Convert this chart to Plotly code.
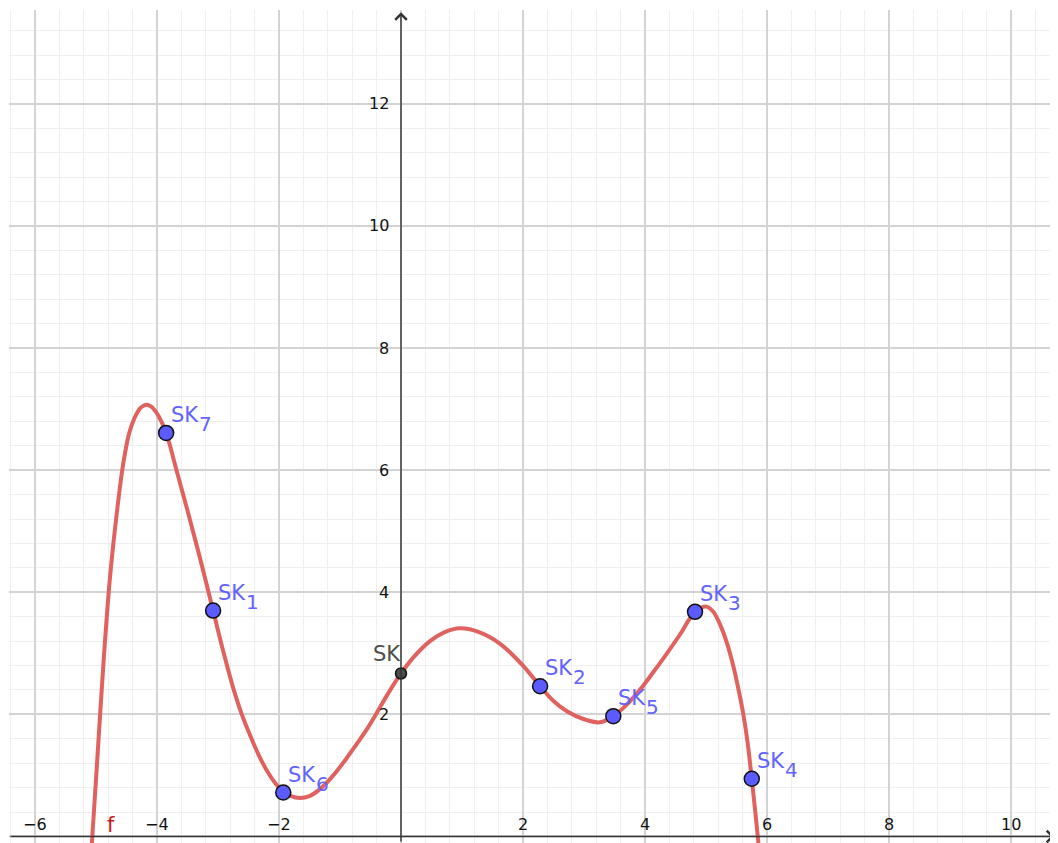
import plotly.graph_objects as go

# ---- data ----
curve_x = [-5.08, -5.06, -4.97, -4.87, -4.77, -4.67, -4.57, -4.52, -4.47, -4.42, -4.37, -4.32,
           -4.27, -4.22, -4.17, -4.12, -4.07, -3.97, -3.85, -3.68, -3.50, -3.30, -3.08, -2.90,
           -2.75, -2.61, -2.45, -2.34, -2.20, -2.05, -1.93, -1.80, -1.66, -1.50, -1.30, -1.11,
           -0.90, -0.73, -0.55, -0.40, -0.20, 0.00, 0.20, 0.475, 0.70, 0.97, 1.30, 1.62, 2.00,
           2.28, 2.50, 2.72, 3.00, 3.26, 3.48, 3.70, 3.97, 4.15, 4.36, 4.60, 4.72, 4.82, 4.92,
           5.01, 5.12, 5.24, 5.34, 5.45, 5.53, 5.61, 5.68, 5.75, 5.81, 5.86, 5.88]
curve_y = [-0.30, 0.00, 1.40, 2.95, 4.25, 5.20, 6.00, 6.30, 6.55, 6.72, 6.85, 6.95,
           7.02, 7.055, 7.07, 7.055, 7.02, 6.88, 6.61, 6.00, 5.34, 4.58, 3.70, 2.98,
           2.43, 2.00, 1.60, 1.35, 1.08, 0.86, 0.74, 0.66, 0.63, 0.66, 0.80, 1.00,
           1.27, 1.51, 1.77, 2.02, 2.36, 2.67, 2.93, 3.20, 3.34, 3.41, 3.34, 3.16, 2.80,
           2.46, 2.22, 2.05, 1.92, 1.87, 1.97, 2.16, 2.47, 2.71, 3.00, 3.35, 3.55, 3.68, 3.75,
           3.765, 3.68, 3.45, 3.18, 2.78, 2.42, 2.01, 1.55, 0.945, 0.38, -0.12, -0.33]

pt_names = ["SK", "SK", "SK", "SK", "SK", "SK", "SK"]
pt_subs = ["1", "2", "3", "4", "5", "6", "7"]
pt_x = [-3.08, 2.28, 4.82, 5.75, 3.48, -1.93, -3.85]
pt_y = [3.70, 2.46, 3.68, 0.945, 1.97, 0.72, 6.61]

sk_name = "SK"
sk_x = [0.0]
sk_y = [2.67]

x_ticks = [-6, -4, -2, 2, 4, 6, 8, 10]
x_tick_labels = ["\u22126", "\u22124", "\u22122", "2", "4", "6", "8", "10"]
y_ticks = [2, 4, 6, 8, 10, 12]
y_tick_labels = ["2", "4", "6", "8", "10", "12"]

func_label = "f"
func_label_pos = (-4.75, 0.0)

# ---- styling ----
FONT = "DejaVu Sans"
CURVE_COLOR = "#e0625e"
PT_COLOR = "#5b5bff"
LBL_COLOR = "#6262ff"
SK_COLOR = "#4d4d4d"
AXIS_COLOR = "#333333"

X_RANGE = [-6.426, 10.770]
Y_RANGE = [-0.107, 13.538]

fig = go.Figure()

fig.add_trace(go.Scatter(
    x=curve_x, y=curve_y, mode="lines",
    line=dict(color=CURVE_COLOR, width=4, shape="spline", smoothing=1.0, simplify=False),
    hoverinfo="skip", showlegend=False))

fig.add_trace(go.Scatter(
    x=pt_x, y=pt_y, mode="markers",
    marker=dict(size=15, color=PT_COLOR, line=dict(color="#111111", width=1.5)),
    hoverinfo="skip", showlegend=False))

fig.add_trace(go.Scatter(
    x=sk_x, y=sk_y, mode="markers",
    marker=dict(size=11, color=SK_COLOR, line=dict(color="#111111", width=1.5)),
    hoverinfo="skip", showlegend=False))

annotations = []
for name, sub, x, y in zip(pt_names, pt_subs, pt_x, pt_y):
    annotations.append(dict(x=x, y=y, text=name, showarrow=False, xanchor="left", yanchor="bottom",
                            xshift=3, yshift=4, font=dict(family=FONT, size=21, color=LBL_COLOR)))
    annotations.append(dict(x=x, y=y, text=sub, showarrow=False, xanchor="left", yanchor="bottom",
                            xshift=31, yshift=-5, font=dict(family=FONT, size=20, color=LBL_COLOR)))
annotations.append(dict(x=sk_x[0], y=sk_y[0], text=sk_name, showarrow=False, xanchor="right",
                        yanchor="bottom", xshift=2, yshift=5,
                        font=dict(family=FONT, size=21, color=SK_COLOR)))

for t, lab in zip(x_ticks, x_tick_labels):
    annotations.append(dict(x=t, y=0, text=lab, showarrow=False, xanchor="center", yanchor="bottom",
                            yshift=0, font=dict(family=FONT, size=16, color="#111111")))
for t, lab in zip(y_ticks, y_tick_labels):
    annotations.append(dict(x=0, y=t, text=lab, showarrow=False, xanchor="right", yanchor="middle",
                            xshift=-10, font=dict(family=FONT, size=16, color="#111111")))

annotations.append(dict(x=func_label_pos[0], y=func_label_pos[1], text=func_label, showarrow=False,
                        xanchor="center", yanchor="bottom", yshift=-3,
                        font=dict(family=FONT, size=21, color="#cc1a1a")))

# axis arrows
annotations.append(dict(x=0, y=13.5, ax=0, ay=Y_RANGE[0], xref="x", yref="y", axref="x", ayref="y",
                        text="", showarrow=True, arrowhead=4, arrowsize=1.6, arrowwidth=1.4,
                        arrowcolor=AXIS_COLOR))
annotations.append(dict(x=10.71, y=0, ax=X_RANGE[0], ay=0, xref="x", yref="y", axref="x", ayref="y",
                        text="", showarrow=True, arrowhead=4, arrowsize=1.6, arrowwidth=1.4,
                        arrowcolor=AXIS_COLOR))

fig.update_layout(
    width=1050, height=835,
    margin=dict(l=1, r=0, t=2, b=0),
    paper_bgcolor="white", plot_bgcolor="white",
    showlegend=False,
    annotations=annotations,
    xaxis=dict(range=X_RANGE, showticklabels=False, ticks="", zeroline=False,
               showgrid=True, tick0=0, dtick=2, gridcolor="#d3d3d3", gridwidth=1.5,
               minor=dict(tick0=0, dtick=0.4, showgrid=True, gridcolor="#efefef", gridwidth=1),
               fixedrange=True, showline=False),
    yaxis=dict(range=Y_RANGE, showticklabels=False, ticks="", zeroline=False,
               showgrid=True, tick0=0, dtick=2, gridcolor="#d3d3d3", gridwidth=1.5,
               minor=dict(tick0=0, dtick=0.4, showgrid=True, gridcolor="#efefef", gridwidth=1),
               fixedrange=True, showline=False),
)

fig.write_html("out.html")
